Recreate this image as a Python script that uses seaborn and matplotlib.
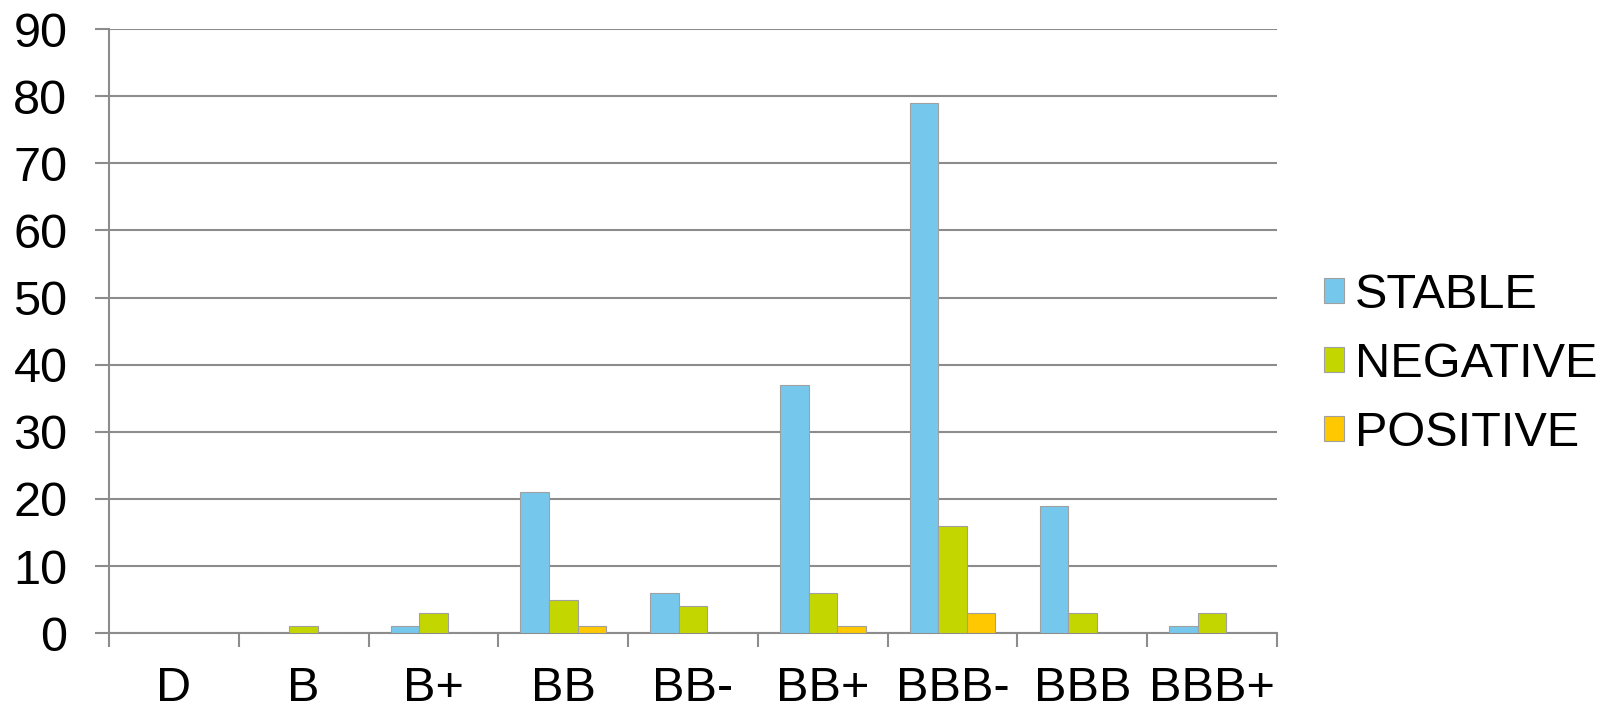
import numpy as np
import pandas as pd
import matplotlib
matplotlib.use("Agg")
import matplotlib.pyplot as plt
import seaborn as sns
from matplotlib.ticker import FixedLocator

categories = ["D", "B", "B+", "BB", "BB-", "BB+", "BBB-", "BBB", "BBB+"]
stable = [0, 0, 1, 21, 6, 37, 79, 19, 1]
negative = [0, 1, 3, 5, 4, 6, 16, 3, 3]
positive = [0, 0, 0, 1, 0, 1, 3, 0, 0]
series_names = ["STABLE", "NEGATIVE", "POSITIVE"]
colors = ["#75C8EC", "#C4D600", "#FFC800"]

rows = []
for name, vals in zip(series_names, [stable, negative, positive]):
    for c, v in zip(categories, vals):
        rows.append({"cat": c, "series": name, "value": v})
df = pd.DataFrame(rows)

sns.set_theme(style="white")
plt.rcParams['font.family'] = ['Liberation Sans', 'DejaVu Sans']

fig = plt.figure(figsize=(16.11, 7.09), dpi=100)
ax = fig.add_axes([0.0677, 0.107, 0.7250, 0.852])

sns.barplot(data=df, x="cat", y="value", hue="series", order=categories,
            hue_order=series_names, palette=colors, width=0.66, saturation=1,
            edgecolor="#A0A0A0", linewidth=0.8, ax=ax, zorder=3)

ax.set_xlim(-0.5, len(categories) - 0.5)
ax.set_ylim(0, 90)
ax.set_yticks(np.arange(0, 91, 10))
ax.yaxis.grid(True, color="#8C8C8C", linewidth=1.5, zorder=0)
ax.set_axisbelow(True)
ax.set_xlabel("")
ax.set_ylabel("")

for s in ["top", "right"]:
    ax.spines[s].set_visible(False)
for s in ["left", "bottom"]:
    ax.spines[s].set_color("#8C8C8C")
    ax.spines[s].set_linewidth(1.5)

ax.xaxis.set_minor_locator(FixedLocator(np.arange(-0.5, len(categories), 1.0)))
ax.tick_params(axis="x", which="major", length=0, pad=24, labelsize=35, labelcolor="black")
ax.tick_params(axis="x", which="minor", bottom=True, length=10, width=1.5, color="#8C8C8C")
ax.tick_params(axis="y", which="major", left=True, length=10, width=1.5, color="#8C8C8C",
               pad=20, labelsize=35, labelcolor="black")

handles, labels = ax.get_legend_handles_labels()
if ax.legend_:
    ax.legend_.remove()
leg = fig.legend(handles, labels, loc="center left", bbox_to_anchor=(0.8067, 0.486),
                 frameon=False, fontsize=35, handlelength=0.41, handleheight=0.41,
                 handletextpad=0.22, labelspacing=0.5, borderpad=0, labelcolor="black")

fig.savefig("out.png", dpi=100)
